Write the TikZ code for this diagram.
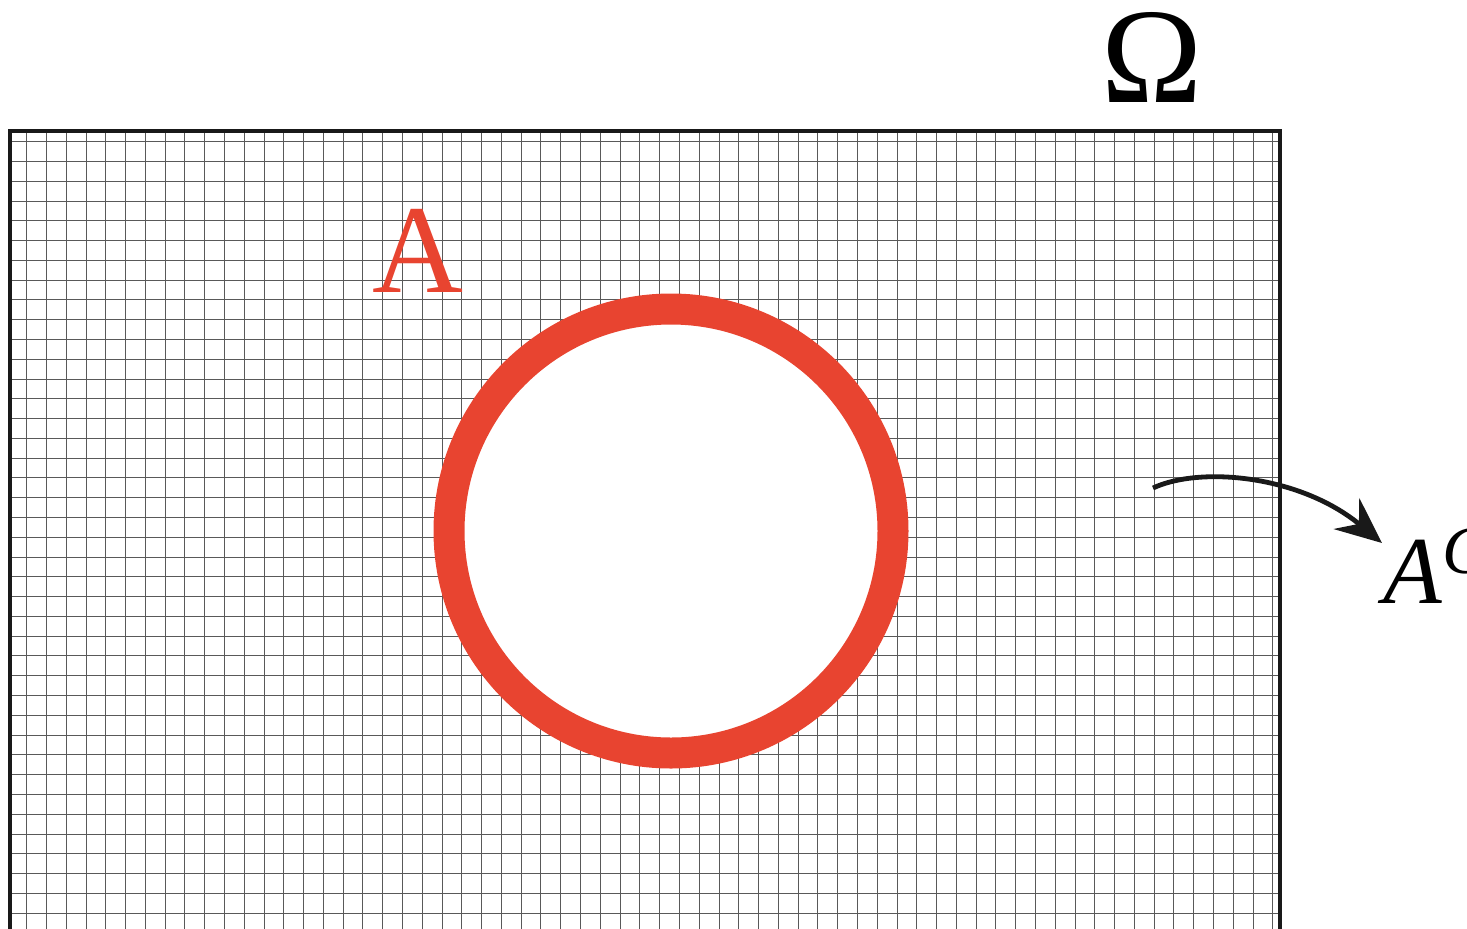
\documentclass[tikz,border=0pt]{standalone}
\usepackage{fontspec}
\setmainfont{Liberation Serif}
\usetikzlibrary{arrows.meta}
\definecolor{setred}{RGB}{232,68,48}

\begin{document}
\begin{tikzpicture}[x=0.5pt, y=-0.5pt,
  gridline/.style={line width=0.5pt, black!65},
  frame/.style={draw, line width=2pt, black!90},
  ring/.style={draw=setred, line width=15.5pt, fill=white},
  label/.style={inner sep=0pt, anchor=base},
  arrow/.style={-{Stealth[length=23pt, width=20pt, inset=8pt]}, line width=2.4pt, black!90}]
  \useasboundingbox (0,0) rectangle (1467,928);
  \clip (0,0) rectangle (1467,928);
  \foreach \i in {0,...,63}
    \draw[gridline] ({26.7+19.78*\i},130) -- ({26.7+19.78*\i},940);
  \foreach \j in {0,...,39}
    \draw[gridline] (9,{141.7+19.78*\j}) -- (1280,{141.7+19.78*\j});
  \draw[frame] (9.5,130.5) rectangle (1280,960);
  \draw[ring] (671,531) circle (222);
  \node[label, text=setred, font=\fontsize{63}{66}\selectfont] (seta) at (418,292) {A};
  \node[label, font=\fontsize{68}{70}\selectfont] (omega) at (1152,102) {Ω};
  \node[label, anchor=base west, font=\fontsize{48}{50}\selectfont] (acomp) at (1383,603)
    {\textit{A}\raisebox{15pt}{\fontsize{34}{36}\selectfont\textit{C}}};
  \coordinate (src) at (1153,488);
  \coordinate (tip) at (1382,543);
  \draw[arrow] (src) .. controls (1200,466) and (1300,475) .. (tip);
\end{tikzpicture}
\end{document}
